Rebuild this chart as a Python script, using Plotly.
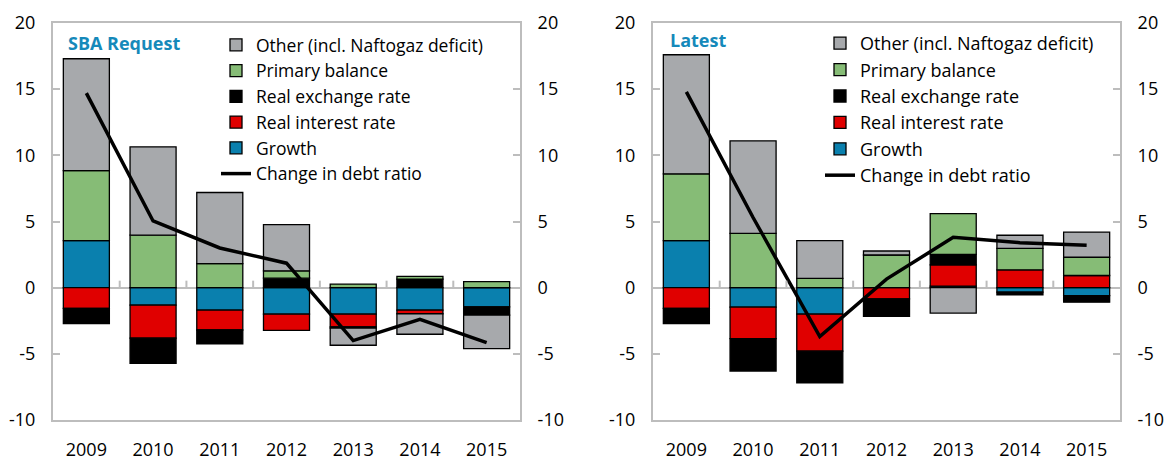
import plotly.graph_objects as go

years = [2009, 2010, 2011, 2012, 2013, 2014, 2015]
year_labels = [str(y) for y in years]

# SBA Request panel
sba_growth = [3.55, -1.32, -1.70, -2.00, -2.00, -1.70, -1.45]
sba_interest = [-1.57, -2.50, -1.50, -1.22, -0.97, -0.27, 0.00]
sba_exchange = [-1.15, -1.90, -1.05, 0.72, -0.08, 0.65, -0.62]
sba_primary = [5.30, 3.97, 1.82, 0.55, 0.27, 0.20, 0.45]
sba_other = [8.45, 6.67, 5.37, 3.50, -1.30, -1.55, -2.53]
sba_change = [14.7, 5.04, 3.0, 1.85, -4.0, -2.4, -4.15]

# Latest panel
lat_growth = [3.55, -1.47, -2.00, 0.00, 0.12, -0.33, -0.60]
lat_interest = [-1.57, -2.38, -2.80, -0.85, 1.60, 1.35, 0.92]
lat_exchange = [-1.15, -2.45, -2.40, -1.32, 0.80, -0.22, -0.50]
lat_primary = [5.05, 4.10, 0.70, 2.47, 3.08, 1.62, 1.38]
lat_other = [9.00, 7.00, 2.85, 0.30, -1.92, 0.99, 1.90]
lat_change = [14.8, 5.3, -3.7, 0.65, 3.8, 3.4, 3.2]

series_names = ["Growth", "Real interest rate", "Real exchange rate",
                "Primary balance", "Other (incl. Naftogaz deficit)"]
series_colors = ["#0A80AE", "#E00000", "#000000", "#86BC76", "#A7A9AC"]
legend_ranks = [5, 4, 3, 2, 1]
line_name = "Change in debt ratio"

y_ticks = [-10, -5, 0, 5, 10, 15, 20]
y_tick_labels = ["-10", "-5", "0", "5", "10", "15", "20"]
FONT = "Open Sans"
AXIS_GRAY = "#BDBDBD"
W, H = 1171, 461

fig = go.Figure()

panels = [
    dict(data=[sba_growth, sba_interest, sba_exchange, sba_primary, sba_other],
         change=sba_change, xa="x", ya="y", yr="y2", legend="legend"),
    dict(data=[lat_growth, lat_interest, lat_exchange, lat_primary, lat_other],
         change=lat_change, xa="x2", ya="y3", yr="y4", legend="legend2"),
]

mid_ticks = [y + 0.5 for y in years[:-1]]
shapes = []
for p in panels:
    for vals, name, col, rk in zip(p["data"], series_names, series_colors, legend_ranks):
        fig.add_trace(go.Bar(
            x=years, y=vals, name=name, xaxis=p["xa"], yaxis=p["ya"],
            width=0.69, marker=dict(color=col, line=dict(color="#000000", width=1.3)),
            legend=p["legend"], legendrank=rk, hoverinfo="skip"))
    fig.add_trace(go.Scatter(
        x=years, y=p["change"], name=line_name, mode="lines", xaxis=p["xa"], yaxis=p["ya"],
        line=dict(color="#000000", width=3.5), legend=p["legend"], legendrank=6))
    # invisible helper so the mirrored right-hand axis is drawn
    fig.add_trace(go.Scatter(
        x=years, y=p["change"], mode="lines", xaxis=p["xa"], yaxis=p["yr"],
        line=dict(color="rgba(0,0,0,0)", width=0), showlegend=False, hoverinfo="skip"))
    # category-boundary tick marks on the zero line (axis decoration)
    for m in mid_ticks:
        shapes.append(dict(type="line", xref=p["xa"], yref=p["ya"], x0=m, x1=m,
                           ysizemode="pixel", yanchor=0, y0=0, y1=7,
                           line=dict(color=AXIS_GRAY, width=2), layer="above"))

dom_left = [53 / W, 520 / W]
dom_right = [653 / W, 1120 / W]
xr = [years[0] - 0.5, years[-1] + 0.5]
TICKFONT = dict(size=18, color="#000000", family=FONT)

def xaxis_main(dom, anchor):
    return dict(domain=dom, anchor=anchor, range=xr, tickmode="array", tickvals=years,
                ticktext=year_labels, ticks="", showline=True, linecolor=AXIS_GRAY,
                linewidth=2, mirror=True, showgrid=False, zeroline=False,
                tickfont=TICKFONT, ticklabelstandoff=12)

def yaxis_left(anchor):
    return dict(domain=[0, 1], anchor=anchor, range=[y_ticks[0], y_ticks[-1]],
                tickmode="array", tickvals=y_ticks, ticktext=y_tick_labels,
                ticks="inside", ticklen=7,
                tickwidth=1.5, tickcolor=AXIS_GRAY, showline=True, linecolor=AXIS_GRAY,
                linewidth=2, showgrid=False, zeroline=True, zerolinecolor=AXIS_GRAY,
                zerolinewidth=2, tickfont=TICKFONT, ticklabelstandoff=12)

def yaxis_right(anchor, over):
    return dict(overlaying=over, side="right", anchor=anchor,
                range=[y_ticks[0], y_ticks[-1]], tickmode="array", tickvals=y_ticks,
                ticktext=y_tick_labels,
                ticks="inside", ticklen=7, tickwidth=1.5, tickcolor=AXIS_GRAY,
                showline=True, linecolor=AXIS_GRAY, linewidth=2, showgrid=False,
                zeroline=False, tickfont=TICKFONT, ticklabelstandoff=12)

legend_common = dict(bgcolor="rgba(0,0,0,0)", tracegroupgap=0, xanchor="left",
                     yanchor="top", itemwidth=30)

fig.update_layout(
    width=W, height=H, barmode="relative",
    margin=dict(l=0, r=0, t=23, b=39),
    paper_bgcolor="white", plot_bgcolor="white",
    font=dict(family=FONT, size=18, color="#000000"),
    xaxis=xaxis_main(dom_left, "y"),
    yaxis=yaxis_left("x"),
    yaxis2=yaxis_right("x", "y"),
    xaxis2=xaxis_main(dom_right, "y3"),
    yaxis3=yaxis_left("x2"),
    yaxis4=yaxis_right("x2", "y3"),
    legend=dict(x=216 / W, y=0.99, font=dict(size=17.5, color="#000000", family=FONT),
                **legend_common),
    legend2=dict(x=820 / W, y=0.995, font=dict(size=18, color="#000000", family=FONT),
                 **legend_common),
    showlegend=True,
    shapes=shapes,
    annotations=[
        dict(text="<b>SBA Request</b>", x=66 / W, y=0.95, xref="paper", yref="paper",
             xanchor="left", yanchor="middle", showarrow=False,
             font=dict(size=18, color="#1589BA", family=FONT)),
        dict(text="<b>Latest</b>", x=668 / W, y=0.957, xref="paper", yref="paper",
             xanchor="left", yanchor="middle", showarrow=False,
             font=dict(size=18, color="#1589BA", family=FONT)),
    ],
)

fig.write_html("out.html", config={"displayModeBar": False},
               post_script="document.body.style.margin='0';")
